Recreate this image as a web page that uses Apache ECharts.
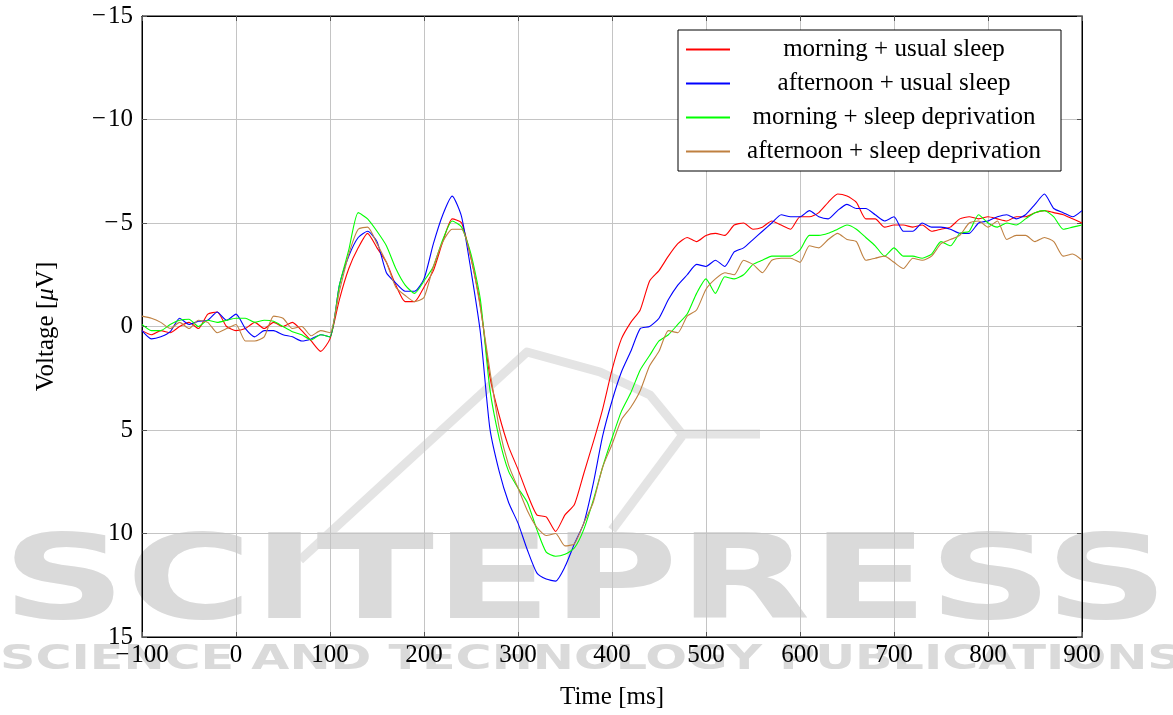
<!DOCTYPE html>
<html>
<head>
<meta charset="utf-8">
<script src="https://cdn.jsdelivr.net/npm/echarts@6/dist/echarts.min.js"></script>
<style>html,body{margin:0;padding:0;background:#fff;}#c{width:1173px;height:715px;}</style>
</head>
<body>
<div id="c"></div>
<script>
// Time axis: -100 .. 900 ms, one sample every 10 ms
const tStart = -100, tStep = 10;
const xTicks = [-100, 0, 100, 200, 300, 400, 500, 600, 700, 800, 900];
const yTicks = [-15, -10, -5, 0, 5, 10, 15];
const seriesNames = ['morning + usual sleep', 'afternoon + usual sleep', 'morning + sleep deprivation', 'afternoon + sleep deprivation'];

const morningUsual = [
 0.2, 0.4, 0.2, 0.3, 0.0, -0.2, 0.1, -0.6, -0.7, 0.0,
 0.2, 0.1, -0.2, 0.1, -0.2, 0.0, -0.2, 0.2, 0.7, 1.2,
 0.6, -1.3, -2.8, -3.8, -4.5, -3.8, -3.1, -2.0, -1.2, -1.2,
 -1.9, -2.7, -4.1, -5.2, -5.0, -3.3, -1.0, 2.4, 4.3, 5.8,
 6.9, 8.1, 9.1, 9.2, 9.9, 9.1, 8.6, 7.1, 5.6, 4.0,
 2.1, 0.6, -0.2, -0.8, -2.2, -2.7, -3.4, -4.0, -4.3, -4.1,
 -4.4, -4.5, -4.4, -4.9, -5.0, -4.7, -4.8, -5.1, -4.9, -4.7,
 -5.3, -5.3, -5.5, -6.0, -6.4, -6.3, -6.0, -5.2, -5.2, -4.8,
 -4.9, -4.9, -4.8, -4.9, -4.6, -4.7, -4.8, -5.2, -5.3, -5.2,
 -5.3, -5.2, -5.1, -5.3, -5.3, -5.5, -5.6, -5.5, -5.4, -5.2,
 -5.0
];
const afternoonUsual = [
 0.2, 0.6, 0.5, 0.25, -0.4, -0.1, -0.25, -0.3, -0.7, -0.3,
 -0.6, 0.1, 0.5, 0.2, 0.2, 0.4, 0.5, 0.7, 0.6, 0.4,
 0.5, -2.0, -3.4, -4.3, -4.6, -4.1, -2.6, -2.1, -1.7, -1.7,
 -2.3, -4.0, -5.4, -6.3, -5.3, -2.7, 0.3, 4.9, 7.0, 8.5,
 9.5, 10.8, 11.9, 12.2, 12.3, 11.6, 10.5, 9.5, 7.6, 5.3,
 3.6, 2.2, 1.2, 0.1, 0.0, -0.4, -1.3, -2.0, -2.5, -3.0,
 -2.9, -3.2, -2.9, -3.6, -3.8, -4.2, -4.6, -5.0, -5.4, -5.3,
 -5.3, -5.6, -5.3, -5.2, -5.6, -5.9, -5.7, -5.7, -5.4, -5.1,
 -5.3, -4.6, -4.6, -5.0, -4.8, -4.8, -4.7, -4.5, -4.5, -5.0,
 -5.1, -5.3, -5.4, -5.2, -5.4, -5.9, -6.4, -5.7, -5.5, -5.3,
 -5.6
];
const morningDeprived = [
 -0.1, 0.2, 0.2, -0.1, -0.3, -0.35, 0.0, -0.3, -0.2, -0.3,
 -0.4, -0.4, -0.2, -0.3, -0.25, 0.0, 0.25, 0.4, 0.65, 0.4,
 0.5, -2.0, -3.7, -5.5, -5.2, -4.6, -3.9, -2.8, -2.0, -1.6,
 -2.2, -2.9, -4.2, -5.1, -4.8, -3.5, -1.3, 3.0, 5.4, 7.0,
 7.8, 8.5, 9.8, 10.9, 11.1, 11.0, 10.7, 9.8, 8.4, 6.8,
 5.4, 4.1, 3.2, 2.1, 1.4, 0.7, 0.4, -0.1, -0.6, -1.6,
 -2.3, -1.6, -2.4, -2.3, -2.5, -3.0, -3.2, -3.4, -3.4, -3.4,
 -3.7, -4.4, -4.4, -4.5, -4.7, -4.9, -4.7, -4.3, -3.9, -3.4,
 -3.8, -3.4, -3.4, -3.3, -3.5, -4.1, -3.9, -4.5, -4.6, -5.4,
 -5.0, -4.8, -5.0, -4.9, -5.2, -5.5, -5.6, -5.3, -4.7, -4.8,
 -4.9
];
const afternoonDeprived = [
 -0.5, -0.4, -0.2, 0.1, -0.2, 0.1, -0.3, -0.2, 0.3, 0.1,
 -0.1, 0.7, 0.7, 0.5, -0.5, -0.4, 0.1, 0.0, 0.45, 0.2,
 0.3, -1.7, -3.5, -4.7, -4.8, -4.0, -3.1, -1.9, -1.5, -1.2,
 -1.4, -2.9, -4.1, -4.7, -4.7, -3.3, -0.9, 2.1, 4.9, 6.7,
 7.8, 8.9, 9.7, 10.1, 10.0, 10.6, 10.5, 9.5, 8.5, 6.8,
 5.7, 4.5, 3.9, 3.1, 1.9, 1.2, 0.2, 0.3, -0.5, -0.8,
 -1.8, -2.3, -2.6, -2.5, -3.2, -3.0, -2.6, -3.2, -3.3, -3.3,
 -3.1, -3.9, -3.8, -4.2, -4.5, -4.2, -4.1, -3.2, -3.3, -3.4,
 -3.1, -2.8, -3.3, -3.2, -3.4, -4.0, -4.2, -4.4, -5.0, -5.1,
 -4.8, -5.1, -4.2, -4.4, -4.4, -4.1, -4.3, -4.1, -3.4, -3.5,
 -3.2
];

const allValues = [morningUsual, afternoonUsual, morningDeprived, afternoonDeprived];
const colors = ['#ff0000', '#0000ff', '#00ff00', '#bf8040'];
const FONT = '"Liberation Serif", "DejaVu Serif", serif';
const fmtMinus = v => (v < 0 ? '\u2212\u200a' + (-v) : String(v));

const chart = echarts.init(document.getElementById('c'), null, {renderer: 'canvas'});
const series = allValues.map((vals, i) => ({
  name: seriesNames[i],
  type: 'line',
  xAxisIndex: 0, yAxisIndex: 0,
  symbol: 'none',
  smooth: 0.2,
  color: colors[i],
  lineStyle: {color: colors[i], width: 1.1},
  itemStyle: {color: colors[i]},
  data: vals.map((v, k) => [tStart + k * tStep, v]),
  z: 3
}));

const gridLine = {show: true, lineStyle: {color: '#c4c4c4', width: 1}};
const WM = '#dadada';
chart.setOption({
  animation: false,
  backgroundColor: '#fff',
  color: colors,
  graphic: [
    {type: 'polyline', silent: true, z: -11,
     shape: {points: [[300, 560], [527, 352], [600, 372], [650, 395], [682, 434], [760, 434]]},
     style: {stroke: '#e4e4e4', lineWidth: 9, fill: null, lineJoin: 'round'}},
    {type: 'polyline', silent: true, z: -11,
     shape: {points: [[682, 436], [612, 530]]},
     style: {stroke: '#e4e4e4', lineWidth: 9, fill: null}},
    {type: 'text', silent: true, z: -10, left: 2, top: 528,
     scaleX: 1.46,
     style: {text: 'SCITEPRESS', fill: WM, font: 'bold 118px "DejaVu Sans"'}},
    {type: 'text', silent: true, z: -10, left: 0, top: 644,
     scaleX: 1.49,
     style: {text: 'SCIENCE AND TECHNOLOGY PUBLICATIONS', fill: WM, font: 'bold 33px "DejaVu Sans"'}}
  ],
  grid: {left: 142, right: 91, top: 16, bottom: 71, show: true, borderColor: '#000', borderWidth: 1, backgroundColor: 'transparent'},
  legend: {
    orient: 'vertical', left: 678, top: 30,
    data: seriesNames.map((n, i) => ({name: n, icon: 'rect', itemStyle: {color: colors[i], borderWidth: 0, opacity: 1}})),
    backgroundColor: '#fff', borderColor: '#000', borderWidth: 1,
    padding: [7, 8], itemGap: 9, itemWidth: 44, itemHeight: 2,
    formatter: n => '{t|' + n + '}',
    textStyle: {
      fontFamily: FONT, fontSize: 25, color: '#000',
      rich: {t: {fontFamily: FONT, fontSize: 25, width: 318, align: 'center', lineHeight: 25, color: '#000'}}
    }
  },
  xAxis: [{
    type: 'value', min: -100, max: 900, interval: 100,
    name: 'Time [ms]', nameLocation: 'middle', nameGap: 48,
    nameTextStyle: {fontFamily: FONT, fontSize: 25, color: '#000'},
    axisLine: {show: true, onZero: false, lineStyle: {color: '#000'}},
    axisTick: {show: true, inside: true, length: 5, lineStyle: {color: '#555'}},
    axisLabel: {fontFamily: FONT, fontSize: 25, color: '#000', margin: 6,
      formatter: v => xTicks.includes(v) ? fmtMinus(v) : ''},
    splitLine: gridLine
  }, {
    type: 'value', min: -100, max: 900, interval: 100, position: 'top',
    axisLine: {show: true, onZero: false, lineStyle: {color: '#000'}},
    axisTick: {show: true, inside: true, length: 5, lineStyle: {color: '#555'}},
    axisLabel: {show: false}, splitLine: {show: false}
  }],
  yAxis: [{
    type: 'value', min: -15, max: 15, interval: 5, inverse: true,
    name: 'Voltage [{i|\u03bc}V]', nameLocation: 'middle', nameGap: 83, nameRotate: 90,
    nameTextStyle: {fontFamily: FONT, fontSize: 25, color: '#000',
      rich: {i: {fontFamily: FONT, fontSize: 25, fontStyle: 'italic', color: '#000'}}},
    axisLine: {show: true, onZero: false, lineStyle: {color: '#000'}},
    axisTick: {show: true, inside: true, length: 5, lineStyle: {color: '#555'}},
    axisLabel: {fontFamily: FONT, fontSize: 25, color: '#000', margin: 9,
      formatter: v => yTicks.includes(v) ? fmtMinus(v) : ''},
    splitLine: gridLine
  }, {
    type: 'value', min: -15, max: 15, interval: 5, inverse: true, position: 'right',
    axisLine: {show: true, onZero: false, lineStyle: {color: '#000'}},
    axisTick: {show: true, inside: true, length: 5, lineStyle: {color: '#555'}},
    axisLabel: {show: false}, splitLine: {show: false}
  }],
  series: series
});
</script>
</body>
</html>
